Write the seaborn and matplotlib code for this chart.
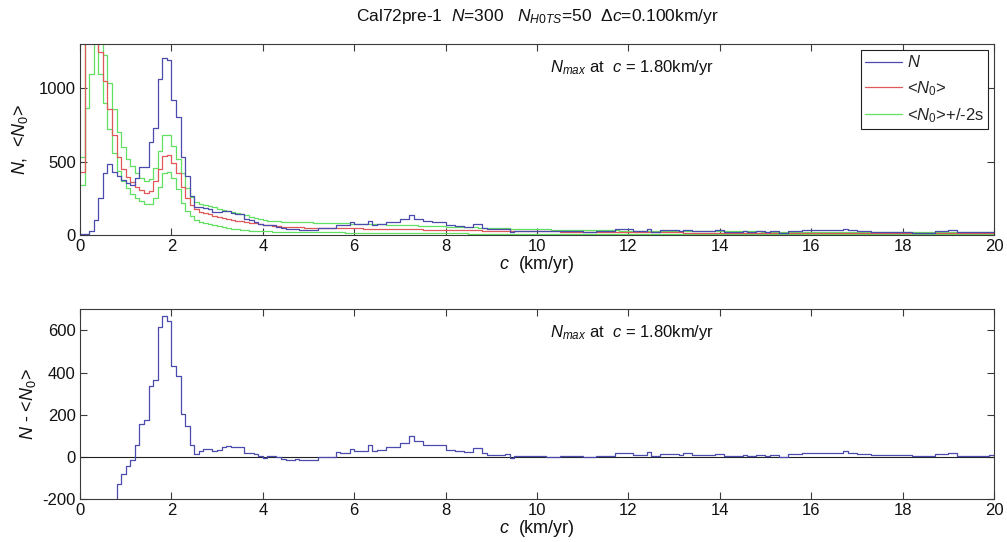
import numpy as np
import matplotlib
matplotlib.use("Agg")
import matplotlib.pyplot as plt
import seaborn as sns
from matplotlib.lines import Line2D

# bin width (km/yr); bins start at c = 0
dc = 0.1

# observed counts N per bin
N = [5, 10, 30, 100, 250, 420, 487, 430, 404, 373,
     357, 344, 386, 463, 467, 636, 731, 1064, 1210, 1191,
     922, 805, 535, 403, 263, 190, 188, 185, 177, 159,
     157, 166, 162, 151, 146, 141, 109, 102, 92, 78,
     66, 70, 67, 58, 50, 43, 42, 43, 36, 35,
     36, 37, 47, 47, 46, 46, 69, 66, 65, 86,
     75, 75, 74, 99, 70, 78, 77, 88, 87, 87,
     106, 106, 137, 112, 112, 96, 96, 91, 90, 90,
     69, 69, 60, 63, 54, 54, 74, 74, 49, 41,
     40, 40, 39, 42, 22, 30, 29, 29, 29, 28,
     30, 28, 24, 24, 24, 29, 29, 29, 28, 28,
     20, 20, 19, 27, 27, 27, 26, 39, 39, 39,
     39, 30, 30, 30, 41, 22, 21, 34, 34, 34,
     34, 29, 36, 36, 25, 25, 25, 25, 25, 32,
     33, 19, 19, 19, 19, 26, 19, 19, 26, 25,
     19, 25, 25, 15, 15, 29, 29, 29, 32, 32,
     32, 32, 31, 31, 31, 33, 33, 41, 33, 33,
     28, 28, 28, 21, 21, 21, 21, 23, 23, 23,
     23, 23, 16, 16, 16, 16, 16, 26, 27, 26,
     31, 31, 18, 18, 18, 18, 18, 18, 18, 20]

# mean of randomised catalogues <N0>
N0 = [432, 1500, 1700, 1600, 1250, 1050, 860, 680, 530, 452,
      398, 360, 328, 305, 290, 298, 368, 448, 540, 548,
      492, 420, 330, 255, 205, 175, 158, 148, 140, 131,
      123, 116, 110, 104, 99, 94, 89, 84, 79, 74,
      69, 65, 62, 59, 57, 55, 54, 53, 52, 51,
      50, 50, 49, 49, 48, 48, 47, 47, 46, 46,
      45, 45, 44, 44, 43, 43, 42, 42, 41, 41,
      40, 40, 39, 38, 38, 37, 37, 36, 35, 35,
      34, 34, 33, 33, 32, 32, 31, 31, 30, 30,
      29, 29, 28, 28, 27, 27, 26, 26, 26, 25,
      25, 25, 24, 24, 24, 23, 23, 23, 22, 22,
      22, 22, 21, 21, 21, 21, 20, 20, 20, 20,
      20, 19, 19, 19, 19, 19, 18, 18, 18, 18,
      18, 18, 17, 17, 17, 17, 17, 17, 17, 16,
      17, 16, 16, 16, 16, 16, 16, 16, 16, 15,
      16, 15, 15, 15, 15, 15, 15, 15, 15, 15,
      15, 15, 14, 14, 14, 14, 14, 14, 14, 14,
      14, 14, 14, 13, 13, 13, 13, 13, 13, 13,
      13, 13, 13, 13, 13, 13, 13, 12, 13, 12,
      12, 12, 12, 12, 12, 12, 12, 12, 12, 12]

# <N0> + 2s
N0_hi = [530, 1800, 2000, 1900, 1450, 1230, 1040, 860, 700, 600,
         520, 470, 420, 390, 370, 380, 460, 570, 680, 680,
         610, 520, 420, 320, 260, 228, 212, 205, 197, 188,
         180, 172, 165, 157, 149, 142, 134, 126, 118, 110,
         102, 98, 95, 93, 92, 91, 90, 89, 88, 87,
         86, 85, 84, 84, 83, 82, 81, 80, 79, 78,
         77, 76, 75, 75, 74, 73, 72, 71, 70, 69,
         68, 67, 66, 65, 64, 63, 62, 61, 60, 59,
         58, 57, 56, 55, 54, 53, 52, 51, 50, 49,
         48, 47, 46, 45, 44, 43, 42, 42, 41, 40,
         39, 39, 38, 37, 37, 36, 36, 35, 35, 34,
         34, 33, 33, 32, 32, 31, 31, 31, 30, 30,
         30, 29, 29, 29, 28, 28, 28, 28, 27, 27,
         27, 27, 26, 26, 26, 26, 26, 25, 25, 25,
         25, 25, 25, 24, 24, 24, 24, 24, 24, 23,
         23, 23, 23, 23, 23, 23, 22, 22, 22, 22,
         22, 22, 22, 22, 21, 21, 21, 21, 21, 21,
         21, 21, 21, 21, 20, 20, 20, 20, 20, 20,
         20, 20, 20, 20, 20, 20, 19, 19, 19, 19,
         19, 19, 19, 19, 19, 19, 19, 19, 19, 19]

# <N0> - 2s
N0_lo = [341, 865, 1100, 1350, 1100, 900, 720, 560, 440, 370,
         320, 280, 250, 230, 215, 210, 255, 330, 420, 430,
         390, 315, 220, 165, 130, 105, 92, 82, 74, 66,
         60, 54, 49, 44, 40, 36, 33, 30, 28, 26,
         25, 24, 23, 23, 22, 22, 21, 21, 20, 20,
         20, 19, 19, 19, 18, 18, 18, 18, 17, 17,
         17, 16, 16, 16, 16, 15, 15, 15, 15, 14,
         14, 14, 14, 13, 13, 13, 13, 12, 12, 12,
         12, 11, 11, 11, 11, 10, 10, 10, 10, 10,
         9, 9, 9, 9, 9, 8, 8, 8, 8, 8,
         8, 8, 7, 7, 7, 7, 7, 7, 7, 6,
         6, 6, 6, 6, 6, 6, 6, 6, 6, 6,
         6, 5, 5, 5, 5, 5, 5, 5, 5, 5,
         5, 5, 5, 5, 5, 5, 5, 5, 5, 5,
         5, 5, 5, 5, 5, 5, 5, 5, 5, 5,
         5, 5, 5, 5, 5, 5, 5, 5, 5, 5,
         5, 5, 5, 5, 5, 5, 5, 5, 5, 5,
         5, 5, 5, 5, 5, 5, 5, 4, 4, 4,
         4, 4, 4, 4, 4, 4, 4, 4, 4, 4,
         4, 4, 4, 4, 4, 4, 4, 4, 4, 4]

x_ticks = [0, 2, 4, 6, 8, 10, 12, 14, 16, 18, 20]
y_ticks_top = [0, 500, 1000]
y_ticks_bot = [-200, 0, 200, 400, 600]
title = r"Cal72pre-1  $N$=300   $N_{H0TS}$=50  $\Delta c$=0.100km/yr"
note = r"$N_{max}$ at  $c$ = 1.80km/yr"

sns.set_theme(style="ticks")
plt.rcParams['font.family'] = ['Liberation Sans', 'DejaVu Sans']
plt.rcParams['mathtext.fontset'] = 'custom'
plt.rcParams['mathtext.rm'] = 'Liberation Sans'
plt.rcParams['mathtext.it'] = 'Liberation Sans:italic'
plt.rcParams['mathtext.bf'] = 'Liberation Sans:bold'
plt.rcParams['axes.unicode_minus'] = False

C_BLUE = '#4b4bad'
C_RED = '#e0585a'
C_GREEN = '#62e062'
C_AX = '#3a3a3a'
C_TXT = '#111111'
LW = 0.9

N = np.asarray(N, float)
N0 = np.asarray(N0, float)
N0_hi = np.asarray(N0_hi, float)
N0_lo = np.asarray(N0_lo, float)
diff = N - N0

edges = np.arange(len(N) + 1) * dc


def ext(v):
    return np.append(v, v[-1])


fig = plt.figure(figsize=(10.07, 5.42), dpi=100)
ax1 = fig.add_axes([0.0794, 0.5664, 0.9077, 0.3515])
ax2 = fig.add_axes([0.0794, 0.0788, 0.9077, 0.3506])

for vals, col in [(N0_lo, C_GREEN), (N0_hi, C_GREEN), (N0, C_RED), (N, C_BLUE)]:
    sns.lineplot(x=edges, y=ext(vals), ax=ax1, color=col, lw=LW,
                 drawstyle='steps-post', estimator=None, sort=False, legend=False)

ax2.axhline(0, color='#222222', lw=0.8)
sns.lineplot(x=edges, y=ext(diff), ax=ax2, color=C_BLUE, lw=LW,
             drawstyle='steps-post', estimator=None, sort=False, legend=False)

for ax, yt, ylim in [(ax1, y_ticks_top, (0, 1300)), (ax2, y_ticks_bot, (-200, 700))]:
    ax.set_xlim(0, 20)
    ax.set_ylim(*ylim)
    ax.set_xticks(x_ticks)
    ax.set_xticklabels([str(t) for t in x_ticks])
    ax.set_yticks(yt)
    ax.set_yticklabels([str(t) for t in yt])
    ax.tick_params(direction='in', top=True, right=True, length=5, width=0.8,
                   color=C_AX, labelsize=12, labelcolor=C_TXT, pad=3)
    for sp in ax.spines.values():
        sp.set_color(C_AX)
        sp.set_linewidth(0.8)
    ax.set_xlabel(r"$c$  (km/yr)", fontsize=13, labelpad=0, color=C_TXT)
    ax.text(0.514, 0.88, note, transform=ax.transAxes, fontsize=12,
            ha='left', va='center', color=C_TXT)

ax1.set_ylabel(r"$N$,  <$N_0$>", fontsize=13, labelpad=6, color=C_TXT)
ax2.set_ylabel(r"$N$ - <$N_0$>", fontsize=13, labelpad=3, color=C_TXT)

fig.text(0.534, 1 - 16 / 542, title, ha='center', va='center', fontsize=12.5, color=C_TXT)

handles = [Line2D([], [], color=C_BLUE, lw=LW),
           Line2D([], [], color=C_RED, lw=LW),
           Line2D([], [], color=C_GREEN, lw=LW)]
labels = [r"$N$", r"<$N_0$>", r"<$N_0$>+/-2s"]
leg = ax1.legend(handles, labels, loc='upper right', fontsize=12, frameon=True,
                 fancybox=False, edgecolor='#222222', framealpha=1,
                 handlelength=2.2, handletextpad=0.3, borderpad=0.25,
                 labelspacing=0.5, borderaxespad=0.35)
leg.get_frame().set_linewidth(0.8)

fig.savefig("out.png", dpi=100)
